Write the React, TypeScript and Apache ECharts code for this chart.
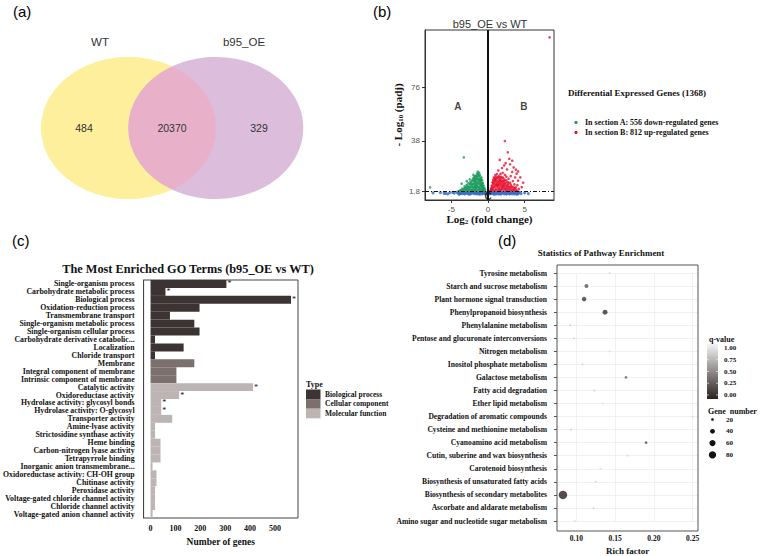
import React, { useEffect, useRef } from 'react';
import * as echarts from 'echarts';

// ---------- (a) Venn ----------
const vennSets = ['WT', 'b95_OE'];
const vennCounts = [484, 20370, 329]; // WT only, shared, b95_OE only

// ---------- (b) Volcano ----------
const volcanoTitle = 'b95_OE vs WT';
const volcanoXTicks = [-5, 0, 5];
const volcanoYTicks = [1.8, 38, 76];
const padjThreshold = 1.8;
const degTotal = 1368;
const downCount = 556;
const upCount = 812;
// [log2 fold change, -log10 padj]
const downGenes = [
  [-4.0, 2.3], [-3.8, 2.8], [-3.6, 3.1], [-3.5, 2.4], [-3.4, 3.6], [-3.3, 26.2], [-3.2, 4.2], [-3.1, 2.9],
  [-3.0, 5.0], [-2.9, 3.4], [-2.8, 6.1], [-2.7, 4.4], [-2.6, 2.6], [-2.5, 10.6], [-2.5, 7.2], [-2.4, 5.3],
  [-2.3, 8.1], [-2.3, 3.2], [-2.2, 6.4], [-2.1, 9.2], [-2.0, 4.6], [-2.0, 10.4], [-1.9, 7.5], [-1.9, 2.7],
  [-1.8, 11.8], [-1.8, 5.8], [-1.7, 9.0], [-1.7, 13.0], [-1.6, 3.9], [-1.6, 7.1], [-1.5, 14.6], [-1.5, 10.9],
  [-1.4, 16.0], [-1.4, 5.4], [-1.3, 12.6], [-1.3, 8.6], [-1.2, 15.2], [-1.2, 3.5], [-1.1, 13.5], [-1.1, 6.8],
  [-1.0, 11.2], [-1.0, 9.5], [-0.9, 12.0], [-0.9, 4.8], [-0.8, 9.9], [-0.8, 7.3], [-0.7, 8.0], [-0.7, 3.0],
  [-0.6, 6.2], [-0.6, 4.1], [-0.5, 4.5], [-0.4, 3.2], [-7.9, 4.9], [-3.6, 7.5], [-2.9, 9.3], [-2.0, 13.8],
  [-1.5, 6.0], [-1.2, 10.2], [-0.9, 8.4], [-1.7, 4.6], [-2.2, 3.0], [-1.0, 5.6], [-1.3, 2.8], [-0.8, 3.8],
  [-3.7, 2.2], [-3.5, 3.9], [-3.3, 2.5], [-3.2, 5.6], [-3.0, 3.7], [-2.9, 6.6], [-2.8, 2.3], [-2.7, 7.9],
  [-2.6, 5.2], [-2.5, 3.3], [-2.4, 8.8], [-2.4, 6.9], [-2.3, 4.9], [-2.2, 9.9], [-2.2, 2.4], [-2.1, 7.3],
  [-2.1, 5.1], [-2.0, 11.4], [-2.0, 3.3], [-1.9, 9.8], [-1.9, 12.6], [-1.9, 5.0], [-1.8, 8.2], [-1.8, 3.4],
  [-1.7, 11.1], [-1.7, 6.3], [-1.7, 2.4], [-1.6, 12.9], [-1.6, 9.4], [-1.6, 5.2], [-1.5, 8.3], [-1.5, 12.4],
  [-1.5, 3.1], [-1.4, 10.6], [-1.4, 13.9], [-1.4, 7.4], [-1.3, 14.7], [-1.3, 4.6], [-1.3, 10.5], [-1.2, 12.9],
  [-1.2, 7.6], [-1.2, 5.2], [-1.1, 11.0], [-1.1, 3.6], [-1.1, 8.9], [-1.0, 7.4], [-1.0, 3.1], [-0.9, 10.0],
  [-0.9, 6.4], [-0.8, 5.5], [-0.8, 2.4], [-0.7, 6.2], [-0.7, 4.6], [-0.6, 2.6], [-0.5, 3.0], [-2.6, 4.0],
  [-2.8, 4.8], [-3.1, 4.6], [-2.0, 6.9], [-1.8, 10.0],
];
const upGenes = [
  [0.3, 2.4], [0.4, 4.0], [0.5, 6.1], [0.6, 3.3], [0.6, 8.4], [0.7, 10.2], [0.8, 5.2], [0.8, 12.0],
  [0.9, 7.6], [1.0, 13.6], [1.0, 3.0], [1.1, 9.8], [1.2, 14.3], [1.2, 5.9], [1.3, 11.7], [1.3, 2.6],
  [1.4, 8.3], [1.5, 13.1], [1.5, 4.2], [1.6, 10.6], [1.6, 24.4], [1.7, 6.8], [1.8, 12.4], [1.8, 3.1],
  [1.9, 9.1], [2.0, 15.2], [2.0, 5.0], [2.1, 11.2], [2.2, 7.4], [2.3, 37.8], [2.3, 13.8], [2.4, 3.6],
  [2.5, 9.8], [2.6, 17.6], [2.6, 6.0], [2.7, 29.8], [2.8, 11.0], [2.9, 4.4], [3.0, 8.2], [3.0, 21.3],
  [3.1, 12.9], [3.2, 5.6], [3.3, 15.8], [3.4, 9.4], [3.5, 3.2], [3.5, 19.0], [3.6, 7.0], [3.7, 11.9],
  [3.8, 4.8], [3.9, 14.6], [4.0, 6.5], [4.1, 9.6], [4.2, 3.8], [4.4, 12.0], [4.6, 5.0], [4.8, 8.2],
  [2.2, 20.5], [2.9, 25.2], [1.9, 18.6], [3.3, 23.8], [3.8, 17.5], [1.4, 16.9], [2.5, 12.5], [1.1, 6.6],
  [0.9, 10.7], [4.1, 16.2], [1.7, 14.5], [2.4, 22.1], [8.4, 111.5], [0.7, 6.9], [1.0, 8.8], [1.3, 6.4],
  [1.6, 3.5], [2.1, 5.7], [2.7, 8.6], [0.5, 3.2], [1.9, 4.7], [2.3, 10.1],
  [0.4, 3.0], [0.5, 4.5], [0.6, 5.5], [0.7, 4.0], [0.7, 8.0], [0.8, 9.3], [0.8, 2.5], [0.9, 5.1],
  [0.9, 11.5], [1.0, 6.4], [1.0, 10.4], [1.1, 3.8], [1.1, 12.4], [1.2, 8.0], [1.2, 11.1], [1.3, 4.9],
  [1.3, 9.2], [1.4, 12.1], [1.4, 6.2], [1.4, 2.8], [1.5, 10.0], [1.5, 7.3], [1.6, 11.9], [1.6, 5.4],
  [1.7, 9.4], [1.7, 2.9], [1.8, 10.8], [1.8, 7.7], [1.9, 6.0], [1.9, 3.9], [2.0, 9.3], [2.0, 7.0],
  [2.1, 3.4], [2.1, 8.6], [2.2, 5.6], [2.2, 9.6], [2.3, 4.2], [2.3, 7.8], [2.4, 6.6], [2.4, 2.7],
  [2.5, 5.1], [2.5, 8.3], [2.6, 3.9], [2.7, 6.5], [2.7, 2.6], [2.8, 5.0], [2.8, 7.5], [2.9, 3.3],
  [3.0, 5.4], [3.1, 3.0], [3.1, 6.9], [3.2, 4.3], [3.3, 2.7], [3.4, 5.2], [3.5, 3.9], [3.6, 2.5],
  [3.7, 4.6], [3.8, 3.1], [4.0, 2.6], [2.0, 11.9], [1.6, 8.6], [1.2, 6.7],
];
const nsGenes = [
  [-7.5, 0.9], [-6.5, 1.2], [-5.8, 0.6], [-5.2, 1.1], [-4.6, 0.8], [-4.2, 1.4], [-4.0, 0.3], [-3.8, 1.0],
  [-3.6, 0.5], [-3.4, 1.5], [-3.2, 0.2], [-3.0, 1.1], [-2.8, 0.7], [-2.6, 1.6], [-2.4, 0.4], [-2.2, 1.2],
  [-2.0, 0.8], [-1.8, 1.5], [-1.6, 0.3], [-1.4, 1.0], [-1.2, 0.6], [-1.0, 1.7], [-0.8, 0.2], [-0.6, 1.3],
  [-0.4, 0.5], [-0.2, 1.0], [0.0, 0.1], [0.2, 1.4], [0.4, 0.6], [0.6, 1.1], [0.8, 0.3], [1.0, 1.6],
  [1.2, 0.8], [1.4, 0.2], [1.6, 1.3], [1.8, 0.5], [2.0, 1.0], [2.2, 0.3], [2.4, 1.5], [2.6, 0.7],
  [2.8, 1.2], [3.0, 0.4], [3.2, 1.6], [3.4, 0.9], [3.6, 0.2], [3.8, 1.3], [4.0, 0.6], [4.2, 1.1],
  [4.5, 0.4], [5.0, 1.0], [-5.5, 0.2], [-0.1, 0.5], [0.1, 0.9], [-3.9, 0.1], [-2.5, 0.0], [-1.1, 0.0],
  [0.9, 0.0], [2.5, 0.1], [3.9, 0.0], [-3.3, 0.6], [-1.5, 0.7], [1.5, 0.6], [3.3, 0.3],
  [-4.1, 0.9], [-3.7, 0.6], [-3.5, 1.2], [-3.1, 0.8], [-2.9, 1.4], [-2.7, 0.3], [-2.3, 0.9], [-2.1, 1.6],
  [-1.9, 0.4], [-1.7, 1.1], [-1.5, 1.6], [-1.3, 0.2], [-0.9, 1.2], [-0.7, 0.7], [-0.5, 1.5], [-0.3, 0.2],
  [0.3, 0.3], [0.5, 1.6], [0.7, 0.5], [0.9, 1.3], [1.1, 0.2], [1.3, 1.0], [1.5, 1.5], [1.7, 0.1],
  [1.9, 1.1], [2.1, 1.6], [2.3, 0.7], [2.7, 1.5], [2.9, 0.2], [3.1, 1.0], [3.5, 1.2], [3.7, 0.7],
  [4.1, 0.3], [4.3, 1.4], [-6.0, 0.7], [-4.8, 1.3], [5.5, 0.5], [-0.05, 1.4],
];
const sectionLabels = [
  [-4.1, 62, 'A'],
  [4.9, 62, 'B'],
  [0, -1.8, 'C'],
];

// ---------- (c) GO terms ----------
const goTitle = 'The Most Enriched GO Terms (b95_OE vs WT)';
const goTerms = [
  'Single-organism process', 'Carbohydrate metabolic process', 'Biological process',
  'Oxidation-reduction process', 'Transmembrane transport', 'Single-organism metabolic process',
  'Single-organism cellular process', 'Carbohydrate derivative catabolic...', 'Localization',
  'Chloride transport', 'Membrane', 'Integral component of membrane', 'Intrinsic component of membrane',
  'Catalytic activity', 'Oxidoreductase activity', 'Hydrolase activity: glycosyl bonds',
  'Hydrolase activity: O-glycosyl', 'Transporter activity', 'Amine-lyase activity',
  'Strictosidine synthase activity', 'Heme binding', 'Carbon-nitrogen lyase activity',
  'Tetrapyrrole binding', 'Inorganic anion transmembrane...', 'Oxidoreductase activity: CH-OH group',
  'Chitinase activity', 'Peroxidase activity', 'Voltage-gated chloride channel activity',
  'Chloride channel activity', 'Voltage-gated anion channel activity',
];
const goCounts = [305, 60, 565, 197, 78, 176, 197, 18, 133, 18, 176, 104, 104, 412, 115, 43, 43, 87, 18, 18, 40, 40, 40, 8, 24, 24, 18, 18, 18, 8];
const goTypes = [0, 0, 0, 0, 0, 0, 0, 0, 0, 0, 1, 1, 1, 2, 2, 2, 2, 2, 2, 2, 2, 2, 2, 2, 2, 2, 2, 2, 2, 2];
const goStarred = [1, 1, 1, 0, 0, 0, 0, 0, 0, 0, 0, 0, 0, 1, 1, 1, 1, 0, 0, 0, 0, 0, 0, 0, 0, 0, 0, 0, 0, 0];
const goTypeNames = ['Biological process', 'Cellular component', 'Molecular function'];
const goXTicks = [0, 100, 200, 300, 400, 500];

// ---------- (d) KEGG pathways ----------
const pathwayTitle = 'Statistics of Pathway Enrichment';
const pathways = [
  'Tyrosine metabolism', 'Starch and sucrose metabolism', 'Plant hormone signal transduction',
  'Phenylpropanoid biosynthesis', 'Phenylalanine metabolism', 'Pentose and glucuronate interconversions',
  'Nitrogen metabolism', 'Inositol phosphate metabolism', 'Galactose metabolism', 'Fatty acid degradation',
  'Ether lipid metabolism', 'Degradation of aromatic compounds', 'Cysteine and methionine metabolism',
  'Cyanoamino acid metabolism', 'Cutin, suberine and wax biosynthesis', 'Carotenoid biosynthesis',
  'Biosynthesis of unsaturated fatty acids', 'Biosynthesis of secondary metabolites',
  'Ascorbate and aldarate metabolism', 'Amino sugar and nucleotide sugar metabolism',
];
const richFactor = [0.143, 0.113, 0.110, 0.137, 0.092, 0.097, 0.143, 0.108, 0.164, 0.123, 0.134, 0.250, 0.093, 0.190, 0.166, 0.131, 0.125, 0.0827, 0.122, 0.098];
const qValue = [0.85, 0.25, 0.1, 0.06, 0.8, 0.8, 0.85, 0.82, 0.3, 0.8, 0.85, 0.85, 0.8, 0.2, 0.82, 0.85, 0.82, 0.0, 0.82, 0.85];
const geneNumber = [14, 31, 37, 43, 14, 14, 13, 13, 20, 14, 13, 12, 14, 20, 13, 13, 13, 104, 13, 14];
const richTicks = [0.1, 0.15, 0.2, 0.25];
const qTicks = [1.0, 0.75, 0.5, 0.25, 0.0];
const geneLegend = [20, 40, 60, 80];

// ---------- styles ----------
const SERIF = "'Liberation Serif', 'DejaVu Serif', serif";
const SANS = "'Liberation Sans', Arial, sans-serif";
const goColors = ['#3b3432', '#7b706e', '#bcb5b3'];
const qColors = ['#2a211f', '#f4f4f4'];
const dotSize = (n: number) => Math.sqrt(Math.max(3.5, 0.767 * n - 8));

const lensPath =
  'M 172.15 66.5 A 87.5 71 0 0 1 172.15 189.5 A 87.5 71 0 0 1 172.15 66.5 Z';
echarts.graphic.registerShape('vennLens', echarts.graphic.extendPath(lensPath, {}) as any);

function buildOption(): any {
  const vol = { left: 425, top: 30, width: 129, height: 170 };
  const go = { left: 140, top: 280, width: 158, height: 238 };
  const kg = { left: 557, top: 273, width: 141, height: 249 };

  const qScaleTop = 344;
  const qScaleH = 55;

  const graphics: any[] = [
    // panel letters
    { type: 'text', x: 13, y: 4, style: { text: '(a)', font: `15px ${SANS}`, fill: '#000' } },
    { type: 'text', x: 373, y: 4, style: { text: '(b)', font: `15px ${SANS}`, fill: '#000' } },
    { type: 'text', x: 12, y: 233, style: { text: '(c)', font: `15px ${SANS}`, fill: '#000' } },
    { type: 'text', x: 498, y: 233, style: { text: '(d)', font: `15px ${SANS}`, fill: '#000' } },
    // Venn
    { type: 'ellipse', shape: { cx: 128.5, cy: 128, rx: 87.5, ry: 71 }, style: { fill: '#fdef9c' } },
    { type: 'ellipse', shape: { cx: 215.8, cy: 128, rx: 87.5, ry: 71 }, style: { fill: '#dcbddc' } },
    { type: 'vennLens', x: 0, y: 0, style: { fill: '#e8b1c9' } },
    { type: 'text', x: 100, y: 42, style: { text: vennSets[0], font: `11.5px ${SANS}`, fill: '#333', align: 'center', verticalAlign: 'middle' } },
    { type: 'text', x: 244, y: 42, style: { text: vennSets[1], font: `11.5px ${SANS}`, fill: '#333', align: 'center', verticalAlign: 'middle' } },
    { type: 'text', x: 84, y: 128, style: { text: String(vennCounts[0]), font: `10.5px ${SANS}`, fill: '#333', align: 'center', verticalAlign: 'middle' } },
    { type: 'text', x: 172, y: 128, style: { text: String(vennCounts[1]), font: `10.5px ${SANS}`, fill: '#333', align: 'center', verticalAlign: 'middle' } },
    { type: 'text', x: 259, y: 128, style: { text: String(vennCounts[2]), font: `10.5px ${SANS}`, fill: '#333', align: 'center', verticalAlign: 'middle' } },
    // volcano title + legend
    { type: 'text', x: 490, y: 24, style: { text: volcanoTitle, font: `11px ${SANS}`, fill: '#333', align: 'center', verticalAlign: 'middle' } },
    { type: 'text', x: 568, y: 93, style: { text: `Differential Expressed Genes (${degTotal})`, font: `bold 9px ${SERIF}`, fill: '#111', verticalAlign: 'middle' } },
    { type: 'circle', shape: { cx: 576, cy: 122.5, r: 1.6 }, style: { fill: '#1a9a5b' } },
    { type: 'circle', shape: { cx: 576, cy: 132.5, r: 1.6 }, style: { fill: '#e8102f' } },
    { type: 'text', x: 585, y: 122.5, style: { text: `In section A: ${downCount} down-regulated genes`, font: `bold 8px ${SERIF}`, fill: '#111', verticalAlign: 'middle' } },
    { type: 'text', x: 585, y: 132.5, style: { text: `In section B: ${upCount} up-regulated genes`, font: `bold 8px ${SERIF}`, fill: '#111', verticalAlign: 'middle' } },
    // GO title + legend
    { type: 'text', x: 188, y: 269, style: { text: goTitle, font: `bold 12.3px ${SERIF}`, fill: '#111', align: 'center', verticalAlign: 'middle' } },
    { type: 'text', x: 306, y: 384, style: { text: 'Type', font: `bold 8px ${SERIF}`, fill: '#111', verticalAlign: 'middle' } },
    // pathway title, border & legends
    { type: 'text', x: 601, y: 253, style: { text: pathwayTitle, font: `bold 8.9px ${SERIF}`, fill: '#111', align: 'center', verticalAlign: 'middle' } },
    { type: 'rect', shape: { x: 557, y: 265, width: 141, height: 266 }, style: { fill: 'none', stroke: '#555', lineWidth: 1 }, z: 10 },
    { type: 'text', x: 709, y: 339, style: { text: 'q-value', font: `bold 8px ${SERIF}`, fill: '#111', verticalAlign: 'middle' } },
    {
      type: 'rect', shape: { x: 707, y: qScaleTop, width: 11, height: qScaleH },
      style: {
        fill: {
          type: 'linear', x: 0, y: 0, x2: 0, y2: 1,
          colorStops: [{ offset: 0, color: qColors[1] }, { offset: 1, color: qColors[0] }],
        },
      },
    },
    { type: 'text', x: 708, y: 411, style: { text: 'Gene  number', font: `bold 8px ${SERIF}`, fill: '#111', verticalAlign: 'middle' } },
  ];
  goTypeNames.forEach((name, i) => {
    graphics.push({ type: 'rect', shape: { x: 306, y: 389.5 + i * 9.6, width: 14.5, height: 9.6 }, style: { fill: goColors[i] } });
    graphics.push({ type: 'text', x: 325, y: 394.3 + i * 9.6, style: { text: name, font: `bold 7.5px ${SERIF}`, fill: '#111', verticalAlign: 'middle' } });
  });
  qTicks.forEach((q) => {
    const y = qScaleTop + 4 + (1 - q) * (qScaleH - 8);
    graphics.push({ type: 'line', shape: { x1: 707, y1: y, x2: 709, y2: y }, style: { stroke: '#fff', lineWidth: 0.6 } });
    graphics.push({ type: 'line', shape: { x1: 716, y1: y, x2: 718, y2: y }, style: { stroke: '#fff', lineWidth: 0.6 } });
    graphics.push({ type: 'text', x: 724, y, style: { text: q.toFixed(2), font: `bold 7px ${SERIF}`, fill: '#111', verticalAlign: 'middle' } });
  });
  geneLegend.forEach((n, i) => {
    graphics.push({ type: 'circle', shape: { cx: 712.5, cy: 419.5 + i * 11.8, r: dotSize(n) / 2 }, style: { fill: '#111' } });
    graphics.push({ type: 'text', x: 726, y: 419.5 + i * 11.8, style: { text: String(n), font: `bold 7px ${SERIF}`, fill: '#111', verticalAlign: 'middle' } });
  });

  const volAxisLabel = { color: '#555', fontSize: 8, fontFamily: SANS };
  const volName = {
    fontFamily: SERIF, fontWeight: 'bold', fontSize: 11, color: '#111',
    rich: { sub: { fontSize: 7, fontFamily: SERIF, fontWeight: 'bold', verticalAlign: 'bottom', padding: [6, 0, 0, 0] } },
  };

  return {
    animation: false,
    backgroundColor: '#fff',
    grid: [
      { ...vol, show: true, borderColor: '#333', borderWidth: 1, backgroundColor: 'transparent' },
      { ...go, show: true, borderColor: '#444', borderWidth: 1, backgroundColor: 'transparent' },
      { ...kg, show: false },
    ],
    xAxis: [
      {
        gridIndex: 0, type: 'value', min: -8.6, max: 9.0,
        axisLine: { onZero: false, lineStyle: { color: '#333' } },
        axisTick: { customValues: volcanoXTicks, length: 3, lineStyle: { color: '#333' } },
        axisLabel: { customValues: volcanoXTicks, margin: 5, ...volAxisLabel },
        splitLine: { show: false },
        name: 'Log{sub|2} (fold change)', nameLocation: 'middle', nameGap: 11,
        nameTextStyle: volName,
      },
      {
        gridIndex: 1, type: 'value', min: -28, max: 593,
        axisLine: { onZero: false, lineStyle: { color: '#444' } },
        axisTick: { customValues: goXTicks, length: 3, lineStyle: { color: '#444' } },
        axisLabel: { customValues: goXTicks, margin: 6, color: '#111', fontFamily: SERIF, fontWeight: 'bold', fontSize: 8 },
        splitLine: { show: false },
        name: 'Number of genes', nameLocation: 'middle', nameGap: 19,
        nameTextStyle: { fontFamily: SERIF, fontWeight: 'bold', fontSize: 9.5, color: '#111' },
      },
      {
        gridIndex: 2, type: 'value', min: 0.075, max: 0.257, interval: 0.025, offset: 9,
        axisLine: { onZero: false, lineStyle: { color: '#555' } },
        axisTick: { customValues: richTicks, length: 3, lineStyle: { color: '#555' } },
        axisLabel: { customValues: richTicks, margin: 4, color: '#111', fontFamily: SERIF, fontWeight: 'bold', fontSize: 7.5, formatter: (v: number) => v.toFixed(2) },
        splitLine: { show: true, lineStyle: { color: '#ededed', width: 0.8 } },
        name: 'Rich factor', nameLocation: 'middle', nameGap: 16,
        nameTextStyle: { fontFamily: SERIF, fontWeight: 'bold', fontSize: 9, color: '#111' },
      },
    ],
    yAxis: [
      {
        gridIndex: 0, type: 'value', min: -4.1, max: 116.7,
        axisLine: { onZero: false, lineStyle: { color: '#333' } },
        axisTick: { customValues: volcanoYTicks, length: 3, lineStyle: { color: '#333' } },
        axisLabel: { customValues: volcanoYTicks, margin: 5, ...volAxisLabel },
        splitLine: { show: false },
        name: '- Log{sub|10} (padj)', nameLocation: 'middle', nameGap: 21, nameRotate: 90,
        nameTextStyle: volName,
      },
      {
        gridIndex: 1, type: 'category', data: goTerms, inverse: true,
        axisLine: { onZero: false, lineStyle: { color: '#444' } },
        axisTick: { alignWithLabel: true, length: 4, lineStyle: { color: '#444' } },
        axisLabel: { interval: 0, margin: 9, color: '#111', fontFamily: SERIF, fontWeight: 'bold', fontSize: 7.8 },
        splitLine: { show: false },
      },
      {
        gridIndex: 2, type: 'category', data: pathways, inverse: true, boundaryGap: false,
        axisLine: { show: false },
        axisTick: { length: 3, lineStyle: { color: '#555' } },
        axisLabel: { interval: 0, margin: 10, color: '#111', fontFamily: SERIF, fontWeight: 'bold', fontSize: 7.6 },
        splitLine: { show: true, lineStyle: { color: '#ededed', width: 0.8 } },
      },
    ],
    visualMap: [
      {
        type: 'continuous', seriesIndex: 5, dimension: 2, min: 0, max: 1,
        inRange: { color: qColors }, show: false,
      },
    ],
    series: [
      {
        type: 'scatter', xAxisIndex: 0, yAxisIndex: 0, data: nsGenes, symbolSize: 3.2,
        itemStyle: { color: '#3a6cc6' }, z: 2,
        markLine: {
          silent: true, symbol: 'none', label: { show: false },
          data: [
            { yAxis: padjThreshold, lineStyle: { color: '#111', type: [4, 2, 1, 2], width: 1 } },
            { xAxis: 0, lineStyle: { color: '#111', type: 'solid', width: 2 } },
          ],
        },
      },
      { type: 'scatter', xAxisIndex: 0, yAxisIndex: 0, data: downGenes, symbolSize: 2.6, itemStyle: { color: '#1a9a5b' }, z: 3 },
      { type: 'scatter', xAxisIndex: 0, yAxisIndex: 0, data: upGenes, symbolSize: 2.6, itemStyle: { color: '#e8102f' }, z: 3 },
      {
        type: 'scatter', xAxisIndex: 0, yAxisIndex: 0, data: sectionLabels, symbolSize: 0, z: 5,
        label: { show: true, position: 'inside', formatter: (p: any) => p.data[2], fontFamily: SANS, fontWeight: 'bold', fontSize: 10, color: '#111' },
      },
      {
        type: 'bar', xAxisIndex: 1, yAxisIndex: 1, barCategoryGap: '0%',
        data: goCounts.map((v, i) => ({
          value: v,
          itemStyle: { color: goColors[goTypes[i]] },
          label: goStarred[i]
            ? { show: true, position: 'right', distance: 1, formatter: '*', fontSize: 8, fontFamily: SERIF, color: '#111' }
            : { show: false },
        })),
      },
      {
        type: 'scatter', xAxisIndex: 2, yAxisIndex: 2,
        data: pathways.map((p, i) => [richFactor[i], p, qValue[i], geneNumber[i]]),
        symbolSize: (v: any) => dotSize(v[3]),
        z: 4,
      },
    ],
    graphic: graphics,
  };
}

export default function App() {
  const ref = useRef<HTMLDivElement>(null);
  useEffect(() => {
    document.body.style.margin = '0';
    if (!ref.current) return;
    const chart = echarts.init(ref.current, undefined, { renderer: 'svg' });
    chart.setOption(buildOption());
    return () => chart.dispose();
  }, []);
  return <div ref={ref} style={{ width: 763, height: 556 }} />;
}
